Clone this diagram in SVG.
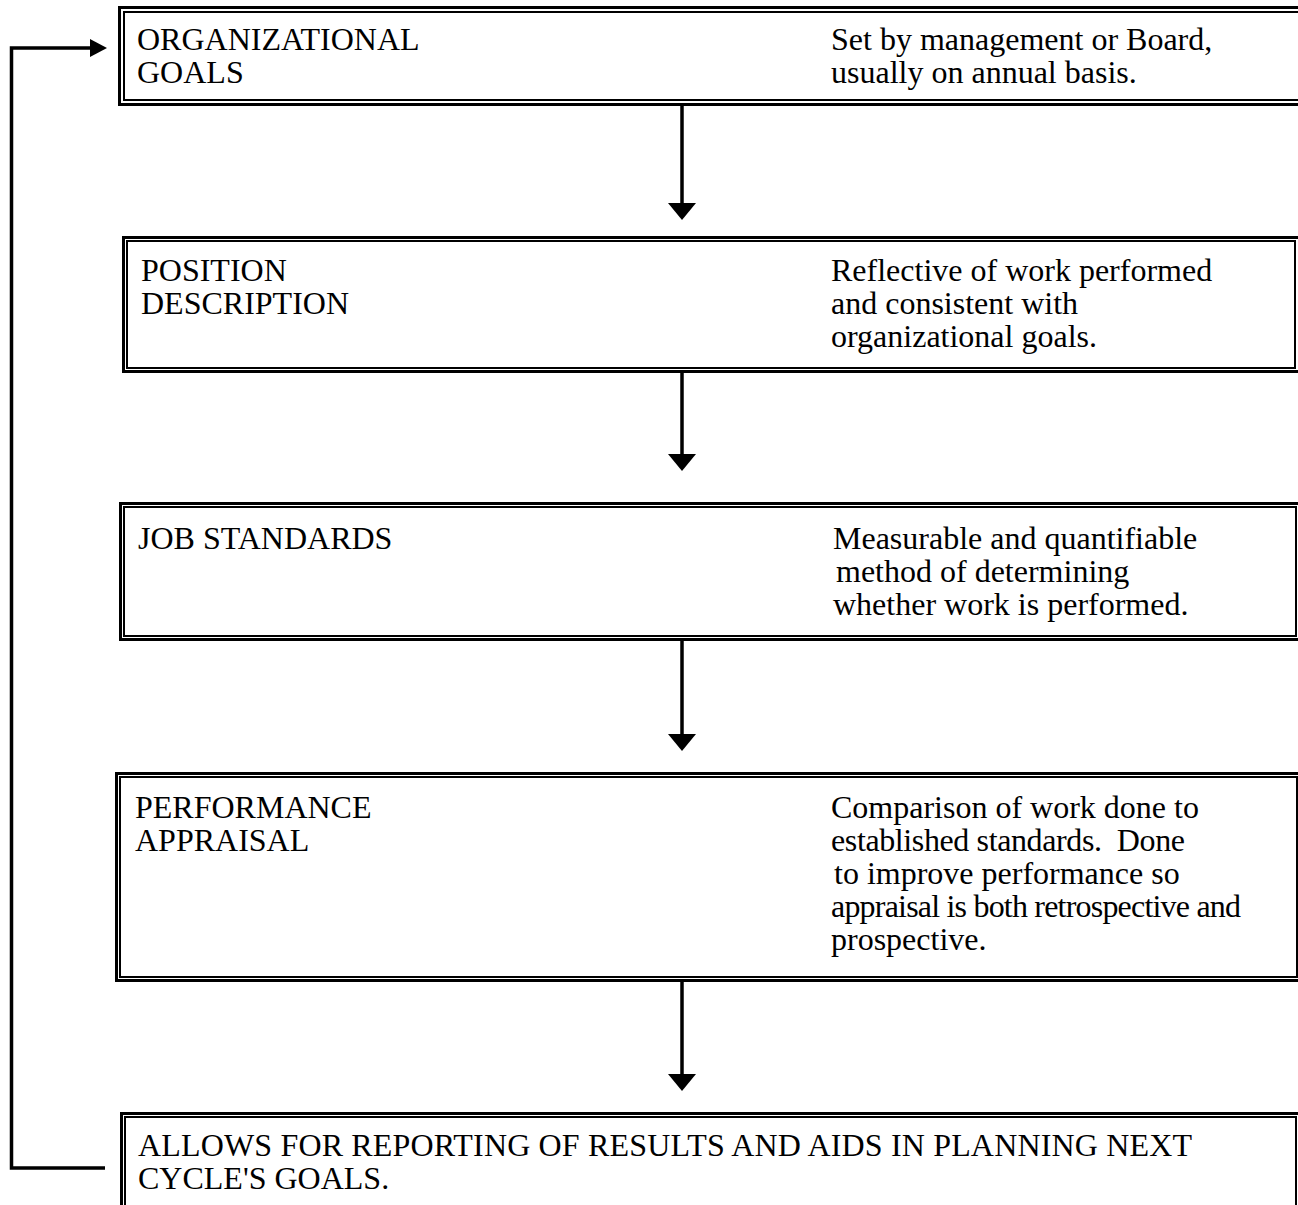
<svg xmlns="http://www.w3.org/2000/svg" width="1298" height="1205" viewBox="0 0 1298 1205">
<style>
.o{fill:none;stroke:#000;stroke-width:3}
.i{fill:none;stroke:#000;stroke-width:2}
text{font-family:"Liberation Serif","Times New Roman",serif;font-size:32px;fill:#000;white-space:pre}
.c{fill:none;stroke:#000;stroke-width:3.5}
</style>
<rect width="1298" height="1205" fill="#fff"/>
<g id="connectors">
<line class="c" x1="682" y1="106" x2="682" y2="204"/>
<polygon points="668,203 696,203 682,220"/>
<line class="c" x1="682" y1="373" x2="682" y2="455"/>
<polygon points="668,454 696,454 682,471"/>
<line class="c" x1="682" y1="641" x2="682" y2="735"/>
<polygon points="668,734 696,734 682,751"/>
<line class="c" x1="682" y1="982" x2="682" y2="1075"/>
<polygon points="668,1074 696,1074 682,1091"/>
<polyline class="c" points="105,1168 11.5,1168 11.5,48 92,48"/>
<polygon points="90,39 90,57 107,48"/>
</g>
<g id="n1">
<rect class="o" x="119.5" y="7.5" width="1190" height="97"/>
<rect class="i" x="124" y="12" width="1182" height="88"/>
<text x="137" y="50">ORGANIZATIONAL</text>
<text x="137" y="83">GOALS</text>
<text x="831" y="50">Set by management or Board,</text>
<text x="831" y="83">usually on annual basis.</text>
</g>
<g id="n2">
<rect class="o" x="123.5" y="237.5" width="1190" height="134"/>
<rect class="i" x="127" y="241" width="1168" height="127"/>
<text x="141" y="281">POSITION</text>
<text x="141" y="314">DESCRIPTION</text>
<text x="831" y="281">Reflective of work performed</text>
<text x="831" y="314">and consistent with</text>
<text x="831" y="347">organizational goals.</text>
</g>
<g id="n3">
<rect class="o" x="120.5" y="503.5" width="1190" height="136"/>
<rect class="i" x="124" y="507" width="1172" height="129"/>
<text x="138" y="549">JOB STANDARDS</text>
<text x="833" y="549">Measurable and quantifiable</text>
<text x="836" y="582">method of determining</text>
<text x="833" y="615">whether work is performed.</text>
</g>
<g id="n4">
<rect class="o" x="116.5" y="773.5" width="1190" height="207"/>
<rect class="i" x="120" y="777" width="1177" height="200"/>
<text x="135" y="818">PERFORMANCE</text>
<text x="135" y="851">APPRAISAL</text>
<text x="831" y="818">Comparison of work done to</text>
<text x="831" y="851" textLength="354">established standards.  Done</text>
<text x="834" y="884">to improve performance so</text>
<text x="831" y="917" textLength="410">appraisal is both retrospective and</text>
<text x="831" y="950">prospective.</text>
</g>
<g id="n5">
<rect class="o" x="121.5" y="1113.5" width="1190" height="120"/>
<rect class="i" x="125" y="1117" width="1171" height="120"/>
<text x="138" y="1156" textLength="1054">ALLOWS FOR REPORTING OF RESULTS AND AIDS IN PLANNING NEXT</text>
<text x="138" y="1189">CYCLE'S GOALS.</text>
</g>
</svg>
